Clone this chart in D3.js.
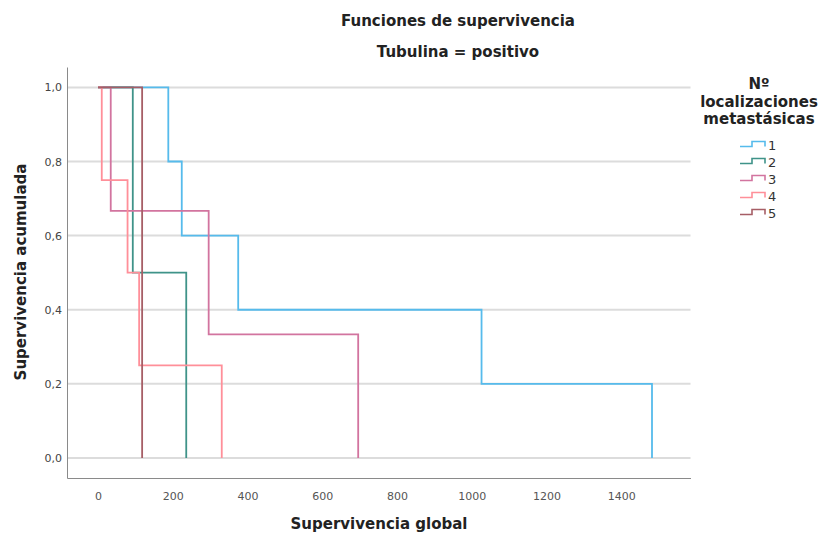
<!DOCTYPE html>
<html>
<head>
<meta charset="utf-8">
<script src="https://cdn.jsdelivr.net/npm/d3@7"></script>
<style>
  body { margin: 0; background: #fff; }
  text { font-family: "DejaVu Sans", sans-serif; }
</style>
</head>
<body>
<div id="chart"></div>
<script>
var width = 820,
  height = 534;

// data
var groups = ["1", "2", "3", "4", "5"];
var eventTimes = [
  [188, 224, 375, 1026, 1482],
  [93, 236],
  [34, 296, 696],
  [10, 79, 110, 331],
  [118]
];
var survival = [
  [0.8, 0.6, 0.4, 0.2, 0],
  [0.5, 0],
  [0.6667, 0.3333, 0],
  [0.75, 0.5, 0.25, 0],
  [0]
];
var xTicks = [0, 200, 400, 600, 800, 1000, 1200, 1400];
var yTicks = [0, 0.2, 0.4, 0.6, 0.8, 1.0];
var colors = ["#56bbec", "#3f9389", "#d2749f", "#ff8f99", "#a65e66"];

var svg = d3.select("#chart")
  .append("svg")
  .attr("width", width)
  .attr("height", height);

var x = d3.scaleLinear().domain([-83, 1585]).range([67, 690.5]);
var y = d3.scaleLinear().domain([-0.054, 1.055]).range([478, 67]);

// gridlines
svg.append("g")
  .selectAll("line")
  .data(yTicks)
  .enter()
  .append("line")
  .attr("x1", x.range()[0])
  .attr("x2", x.range()[1])
  .attr("y1", function (d) { return y(d); })
  .attr("y2", function (d) { return y(d); })
  .attr("stroke", "#dcdcdc")
  .attr("stroke-width", 2);

// axes
var xAxis = svg.append("g")
  .attr("transform", "translate(0," + y.range()[0] + ")")
  .call(d3.axisBottom(x).tickValues(xTicks).tickSize(0).tickPadding(14).tickFormat(d3.format("d")));
xAxis.select(".domain").attr("stroke", "#8a8a8a");
xAxis.selectAll("text").attr("fill", "#555").attr("font-size", 11);

var yAxis = svg.append("g")
  .attr("transform", "translate(" + x.range()[0] + ",0)")
  .call(d3.axisLeft(y).tickValues(yTicks).tickSize(0).tickPadding(5)
    .tickFormat(function (d) { return d3.format(".1f")(d).replace(".", ","); }));
yAxis.select(".domain").attr("stroke", "#8a8a8a");
yAxis.selectAll("text").attr("fill", "#444").attr("font-size", 11);

// survival curves
var line = d3.line()
  .x(function (d) { return x(d[0]); })
  .y(function (d) { return y(d[1]); })
  .curve(d3.curveStepAfter);

var curves = groups.map(function (g, i) {
  var pts = [[0, 1]];
  eventTimes[i].forEach(function (t, j) { pts.push([t, survival[i][j]]); });
  return pts;
});

svg.append("g")
  .selectAll("path")
  .data(curves)
  .enter()
  .append("path")
  .attr("fill", "none")
  .attr("stroke", function (d, i) { return colors[i]; })
  .attr("stroke-width", 1.8)
  .attr("d", line);

// titles
svg.append("text")
  .attr("x", 458).attr("y", 26)
  .attr("text-anchor", "middle")
  .attr("font-weight", "bold").attr("font-size", 15).attr("fill", "#222")
  .text("Funciones de supervivencia");

svg.append("text")
  .attr("x", 458).attr("y", 57)
  .attr("text-anchor", "middle")
  .attr("font-weight", "bold").attr("font-size", 15).attr("fill", "#222")
  .text("Tubulina = positivo");

svg.append("text")
  .attr("x", 379).attr("y", 529)
  .attr("text-anchor", "middle")
  .attr("font-weight", "bold").attr("font-size", 15).attr("fill", "#222")
  .text("Supervivencia global");

svg.append("text")
  .attr("transform", "translate(26,272)rotate(-90)")
  .attr("text-anchor", "middle")
  .attr("font-weight", "bold").attr("font-size", 15).attr("fill", "#222")
  .text("Supervivencia acumulada");

// legend
var legendTitle = ["Nº", "localizaciones", "metastásicas"];
svg.append("g")
  .selectAll("text")
  .data(legendTitle)
  .enter()
  .append("text")
  .attr("x", 759)
  .attr("y", function (d, i) { return 89 + i * 17.5; })
  .attr("text-anchor", "middle")
  .attr("font-weight", "bold").attr("font-size", 15).attr("fill", "#222")
  .text(function (d) { return d; });

var legend = svg.append("g")
  .selectAll("g")
  .data(groups)
  .enter()
  .append("g")
  .attr("transform", function (d, i) { return "translate(740," + (145 + i * 17) + ")"; });

legend.append("path")
  .attr("fill", "none")
  .attr("stroke", function (d, i) { return colors[i]; })
  .attr("stroke-width", 1.6)
  .attr("d", "M0,1.5H12V-3.5H25V1.5");

legend.append("text")
  .attr("x", 28).attr("y", 5)
  .attr("font-size", 13).attr("fill", "#333")
  .text(function (d) { return d; });
</script>
</body>
</html>
